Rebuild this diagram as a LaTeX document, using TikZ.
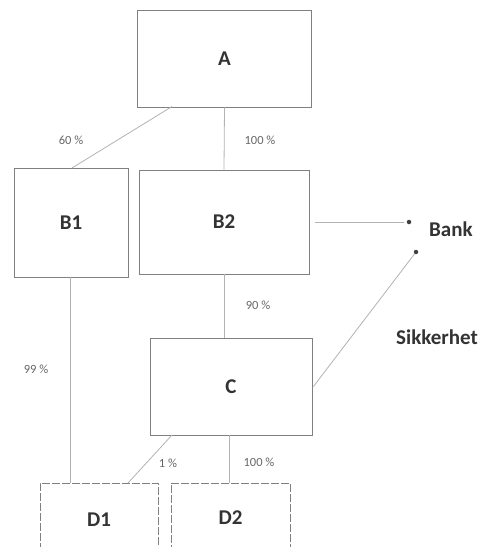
\documentclass[tikz,border=0pt]{standalone}
\usepackage{fontspec}
\setmainfont{Carlito}
\begin{document}
\begin{tikzpicture}[x=1pt,y=-1pt,
  box/.style={draw=black!50,line width=0.9pt,rectangle,inner sep=0pt,font=\bfseries\fontsize{21}{24}\selectfont,text=black!80},
  dbox/.style={box,dashed,dash pattern=on 8pt off 2pt},
  conn/.style={draw=black!30,line width=0.8pt},
  pct/.style={font=\fontsize{12.5}{14}\selectfont,text=black!60,inner sep=0pt},
  side/.style={font=\bfseries\fontsize{21}{24}\selectfont,text=black!80,inner sep=0pt},
  dot/.style={circle,fill=black!75,inner sep=0pt,minimum size=4.5pt}]
\useasboundingbox (0,0) rectangle (481,547);
\clip (0,0) rectangle (481,547);
\node[box,minimum width=174pt,minimum height=97pt] (A) at (224.5,58.5) {A};
\node[box,minimum width=114pt,minimum height=109pt] (B1) at (71,222.5) {B1};
\node[box,minimum width=170pt,minimum height=104pt] (B2) at (224,222) {B2};
\node[box,minimum width=162pt,minimum height=97pt] (C) at (231,386.5) {C};
\node[dbox,minimum width=118pt,minimum height=74pt] (D1) at (99,520) {D1};
\node[dbox,minimum width=119pt,minimum height=70pt] (D2) at (230.5,518) {D2};
\node[dot] (bankdot) at (409,222) {};
\node[dot] (sikdot) at (416,252) {};
\node[side,anchor=west] (bank) at (429,229) {Bank};
\node[side] (sik) at (437,337) {Sikkerhet};
\coordinate (a1) at (172,106.5);
\coordinate (b1t) at (72,168);
\draw[conn] (a1) -- (b1t);
\draw[conn] (A.south) -- (B2.north);
\draw[conn] ([xshift=6pt]B2.east) -- ([xshift=-5pt]bankdot.center);
\draw[conn] (sikdot) -- ([xshift=1pt]C.east);
\draw[conn] (B2.south) -- (B2.south |- C.north);
\draw[conn] (B1.south -| 70,0) -- (70,483);
\coordinate (c1) at (172,435);
\coordinate (d1t) at (128,483);
\draw[conn] (c1) -- (d1t);
\draw[conn] (229,435) -- (229,483);
\node[pct] (p60) at (71,140) {60 \%};
\node[pct] (p100a) at (260,140) {100 \%};
\node[pct] (p90) at (258,305) {90 \%};
\node[pct] (p99) at (36,369) {99 \%};
\node[pct] (p1) at (168,463) {1 \%};
\node[pct] (p100b) at (259,462) {100 \%};
\end{tikzpicture}
\end{document}
